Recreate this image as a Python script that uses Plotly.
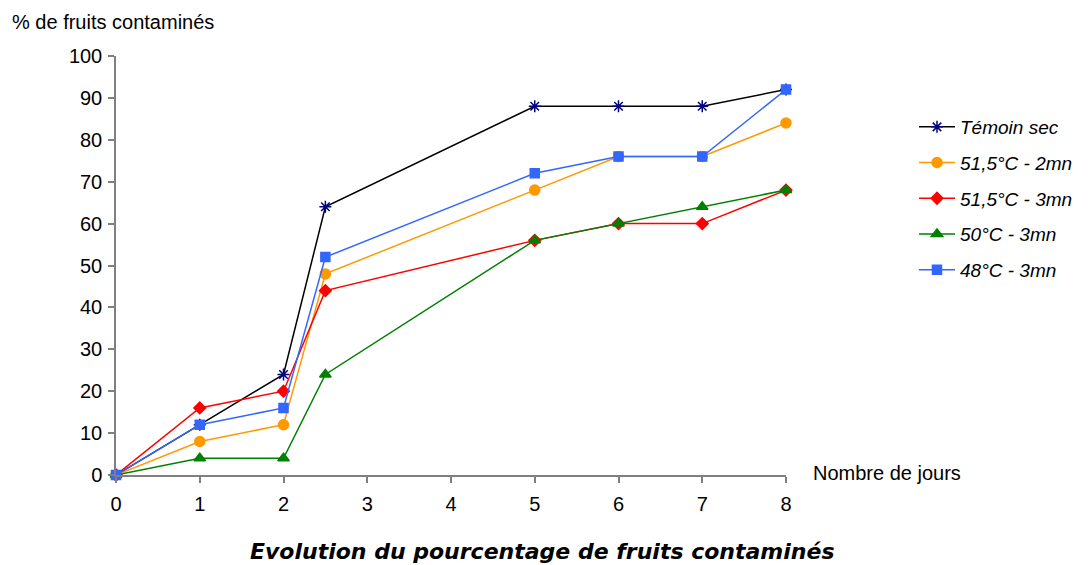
import plotly.graph_objects as go

jours = [0, 1, 2, 2.5, 5, 6, 7, 8]
temoin_sec = [0, 12, 24, 64, 88, 88, 88, 92]
t515_2mn = [0, 8, 12, 48, 68, 76, 76, 84]
t515_3mn = [0, 16, 20, 44, 56, 60, 60, 68]
t50_3mn = [0, 4, 4, 24, 56, 60, 64, 68]
t48_3mn = [0, 12, 16, 52, 72, 76, 76, 92]

series = [
    ("Témoin sec", temoin_sec, "black", "#000080", "asterisk-open", 10),
    ("51,5°C - 2mn", t515_2mn, "#FF9900", "#FF9900", "circle", 10),
    ("51,5°C - 3mn", t515_3mn, "#FF0000", "#FF0000", "diamond", 9),
    ("50°C - 3mn", t50_3mn, "#008000", "#008000", "triangle-up", 10),
    ("48°C - 3mn", t48_3mn, "#3366FF", "#3366FF", "square", 9),
]

fig = go.Figure()
for i, (name, vals, lc, mc, sym, sz) in enumerate(series):
    fig.add_trace(go.Scatter(
        x=jours, y=vals, name=name, mode="lines+markers",
        line=dict(color=lc, width=1.5),
        marker=dict(symbol=sym, size=sz, color=mc, line=dict(color=mc, width=1.5)),
        legendgroup=str(i), cliponaxis=False,
    ))

W, H = 1080, 557
L, R, T, B = 108, 302, 48, 90
PW, PH = W - L - R, H - T - B  # 670 x 419

fig.update_layout(
    width=W, height=H,
    margin=dict(l=L, r=R, t=T, b=B, autoexpand=False),
    plot_bgcolor="white", paper_bgcolor="white",
    font=dict(family="Liberation Sans, Arial", size=18, color="black"),
    showlegend=True,
    legend=dict(
        x=1 + 128/PW, xanchor="left", y=1 - 52/PH, yanchor="top",
        font=dict(size=19, style="italic"),
        tracegroupgap=8, itemwidth=36,
        bgcolor="rgba(0,0,0,0)",
    ),
    xaxis=dict(
        range=[0, 8], tickvals=list(range(0, 9)), showgrid=False, zeroline=False,
        showline=True, linecolor="#808080", linewidth=1.5,
        ticks="outside", ticklen=6, tickcolor="#808080", tickwidth=1.5,
        tickfont=dict(size=20), ticklabelstandoff=4,
    ),
    yaxis=dict(
        range=[0, 100], dtick=10, showgrid=False, zeroline=False,
        showline=True, linecolor="#808080", linewidth=1.5,
        ticks="outside", ticklen=6, tickcolor="#808080", tickwidth=1.5,
        tickfont=dict(size=20), ticklabelstandoff=2,
    ),
    annotations=[
        dict(text="% de fruits contaminés", xref="paper", yref="paper",
             x=-(L - 2)/PW, y=1 + (56 - 22)/PH, xanchor="left", yanchor="middle",
             showarrow=False, font=dict(size=20)),
        dict(text="Nombre de jours", xref="paper", yref="paper",
             x=1 + 25/PW, y=0, xanchor="left", yanchor="middle", yshift=2,
             showarrow=False, font=dict(size=20)),
        dict(text="<b><i>Evolution du pourcentage de fruits contaminés</i></b>",
             xref="paper", yref="paper",
             x=(542 - 116)/PW, y=-(551 - 475)/PH, xanchor="center", yanchor="middle",
             showarrow=False,
             font=dict(family="Comic Sans MS, DejaVu Sans", size=22)),
    ],
)

fig.write_html("out.html")
